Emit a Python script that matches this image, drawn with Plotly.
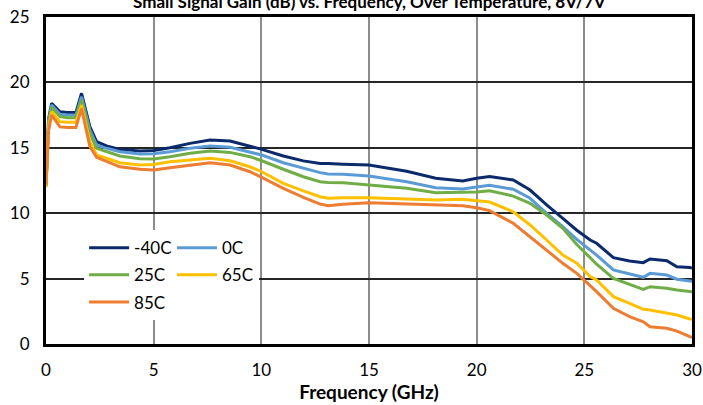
import plotly.graph_objects as go

freq = [0, 0.12, 0.26, 0.65, 1.0, 1.39, 1.65, 2.04, 2.35, 2.81, 3.43, 4.36, 5.0, 5.76, 6.69,
        7.62, 8.55, 9.47, 10.02, 11.02, 11.95, 12.73, 13.1, 13.8, 15.0, 16.75, 18.1, 19.35,
        20.0, 20.6, 21.7, 22.48, 23.25, 24.0, 24.65, 25.27, 25.57, 26.35, 27.1, 27.74, 28.05,
        28.83, 29.3, 29.9, 30.0]

gain_m40 = [12.1, 17.2, 18.4, 17.76, 17.7, 17.7, 19.17, 16.6, 15.47, 15.14, 14.88, 14.75, 14.8,
            15.0, 15.34, 15.6, 15.52, 15.14, 14.88, 14.37, 14.0, 13.8, 13.8, 13.74, 13.68, 13.2,
            12.67, 12.46, 12.67, 12.8, 12.54, 11.77, 10.63, 9.6, 8.7, 7.95, 7.7, 6.6, 6.35, 6.22,
            6.5, 6.37, 5.91, 5.84, 5.8]
gain_0 = [12.1, 17.1, 18.27, 17.56, 17.5, 17.5, 18.9, 16.36, 15.21, 14.96, 14.7, 14.53, 14.55,
          14.7, 14.96, 15.14, 15.04, 14.7, 14.45, 13.86, 13.43, 13.1, 13.0, 12.97, 12.84, 12.4,
          11.95, 11.85, 12.0, 12.13, 11.83, 11.14, 9.99, 8.97, 8.0, 7.19, 6.8, 5.66, 5.33, 5.1,
          5.4, 5.27, 4.95, 4.82, 4.8]
gain_25 = [12.0, 16.9, 18.1, 17.38, 17.3, 17.3, 18.65, 16.1, 14.96, 14.7, 14.37, 14.17, 14.15,
           14.32, 14.58, 14.75, 14.65, 14.32, 14.01, 13.36, 12.79, 12.41, 12.35, 12.33, 12.16,
           11.9, 11.57, 11.57, 11.62, 11.72, 11.31, 10.76, 9.86, 8.84, 7.6, 6.6, 6.1, 5.02, 4.56,
           4.18, 4.38, 4.26, 4.13, 4.0, 4.0]
gain_65 = [12.0, 16.6, 17.76, 17.0, 16.95, 16.95, 18.27, 15.47, 14.45, 14.2, 13.86, 13.68, 13.72,
           13.94, 14.07, 14.2, 14.01, 13.55, 13.17, 12.28, 11.7, 11.26, 11.14, 11.19, 11.19,
           11.06, 11.0, 11.06, 10.96, 10.85, 10.11, 9.1, 7.95, 6.8, 6.17, 5.15, 4.9, 3.62, 3.11,
           2.65, 2.6, 2.34, 2.22, 1.91, 1.9]
gain_85 = [12.2, 16.3, 17.5, 16.6, 16.55, 16.55, 18.0, 15.08, 14.27, 13.94, 13.55, 13.36, 13.3,
           13.48, 13.68, 13.86, 13.68, 13.17, 12.74, 11.9, 11.21, 10.7, 10.57, 10.68, 10.8, 10.7,
           10.68, 10.57, 10.42, 10.2, 9.23, 8.2, 7.19, 6.17, 5.4, 4.5, 4.0, 2.73, 2.09, 1.7, 1.32,
           1.2, 0.99, 0.56, 0.5]

names = ["-40C", "0C", "25C", "65C", "85C"]
colors = ["#0B2A6B", "#5B9BD5", "#70AD47", "#FFC000", "#ED7D31"]
series = [gain_m40, gain_0, gain_25, gain_65, gain_85]
# legend is laid out in two columns: left column / right column
legend_of = ["legend", "legend2", "legend", "legend2", "legend"]

font = "Lato, Calibri, Carlito, sans-serif"

fig = go.Figure()
for name, color, vals, lg in zip(names, colors, series, legend_of):
    fig.add_trace(go.Scatter(x=freq, y=vals, name=name, mode="lines", legend=lg,
                             legendgroup=name, line=dict(color=color, width=3)))

# empty entry so the right legend column has the same height as the left one
fig.add_trace(go.Scatter(x=[None], y=[None], name=" ", mode="lines", legend="legend2",
                         legendgroup="blank", line=dict(color="rgba(0,0,0,0)", width=3),
                         hoverinfo="skip"))

legend_style = dict(yanchor="top", y=0.348, xanchor="left", bgcolor="white",
                    font=dict(size=17), tracegroupgap=2, itemwidth=40)

fig.update_layout(
    width=703, height=405,
    margin=dict(l=46, r=11, t=17, b=61),
    plot_bgcolor="white", paper_bgcolor="white",
    font=dict(family=font, size=17, color="black"),
    showlegend=True,
    legend=dict(x=0.059, **legend_style),
    legend2=dict(x=0.195, **legend_style),
)

fig.add_annotation(text="<b>Small Signal Gain (dB) vs. Frequency, Over Temperature, 8V/7V</b>",
                   xref="paper", yref="paper", x=0.5, y=1, yanchor="bottom", yshift=3,
                   showarrow=False, font=dict(size=17))

fig.update_xaxes(range=[0, 30], tickvals=[0, 5, 10, 15, 20, 25, 30],
                 showgrid=True, gridcolor="#8c8c8c", gridwidth=2, zeroline=False,
                 showline=True, linecolor="black", linewidth=3, mirror=True, automargin=False,
                 ticks="", ticklabelstandoff=9,
                 title=dict(text="<b>Frequency (GHz)</b>", standoff=2, font=dict(size=19)))
fig.update_yaxes(range=[0, 25], tickvals=[0, 5, 10, 15, 20, 25],
                 showgrid=True, gridcolor="#262626", gridwidth=1.5, zeroline=False,
                 showline=True, linecolor="black", linewidth=3, mirror=True, automargin=False,
                 ticks="", ticklabelstandoff=10)

# page body margin removed so the figure sits at the window's top-left corner
fig.write_html("out.html", config={"displayModeBar": False},
               post_script="document.body.style.margin='0';")
